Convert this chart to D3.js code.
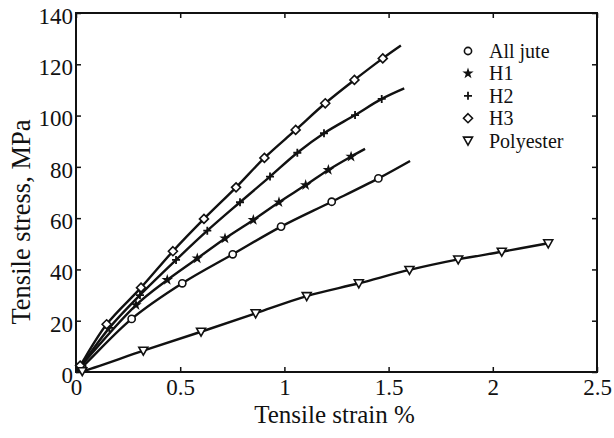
<!DOCTYPE html>
<html>
<head>
<meta charset="utf-8">
<script src="https://cdn.jsdelivr.net/npm/d3@7"></script>
<style>
	body { margin: 0; background: #fff; }
	text { font-family: "Liberation Serif", "Times New Roman", serif; fill: #111; }
</style>
</head>
<body>
<svg id="chart" width="614" height="438"></svg>
<script>
// values (strain %, stress MPa)
const seriesNames = ["All jute", "H1", "H2", "H3", "Polyester"];

const juteStrain = [0, 0.03, 0.267, 0.51, 0.752, 0.984, 1.227, 1.451, 1.603];
const juteStress = [0, 2, 20.7, 34.6, 45.9, 56.7, 66.4, 75.5, 82.3];

const h1Strain = [0, 0.02, 0.288, 0.438, 0.582, 0.715, 0.851, 0.974, 1.102, 1.211, 1.32, 1.387];
const h1Stress = [0, 2, 26.1, 35.9, 44.3, 52.1, 59.3, 66.2, 72.9, 78.8, 84.0, 87.0];

const h2Strain = [0, 0.02, 0.16, 0.307, 0.48, 0.63, 0.787, 0.931, 1.062, 1.19, 1.339, 1.467, 1.575];
const h2Stress = [0, 2, 17.2, 30.0, 43.7, 55.1, 66.2, 76.2, 85.5, 93.1, 100.2, 106.5, 110.6];

const h3Strain = [0, 0.02, 0.147, 0.312, 0.465, 0.614, 0.768, 0.904, 1.054, 1.196, 1.336, 1.472, 1.559];
const h3Stress = [0, 2.5, 18.6, 32.9, 47.1, 59.7, 72.0, 83.5, 94.4, 104.8, 113.9, 122.3, 127.3];

const polyStrain = [0, 0.03, 0.323, 0.6, 0.862, 1.107, 1.357, 1.6, 1.834, 2.043, 2.266];
const polyStress = [0, 0.3, 8.3, 15.7, 22.9, 29.6, 34.6, 39.8, 43.9, 46.9, 50.2];

// last point is a bare line end (no marker)
const openEnd = [true, true, true, true, false];

const xTicks = [0, 0.5, 1, 1.5, 2, 2.5];
const yTicks = [0, 20, 40, 60, 80, 100, 120, 140];

const strains = [juteStrain, h1Strain, h2Strain, h3Strain, polyStrain];
const stresses = [juteStress, h1Stress, h2Stress, h3Stress, polyStress];
const markerKind = ["circle", "star", "plus", "diamond", "triangle"];

let svg = d3.select("#chart");

let pLeft = 76, pRight = 597, pTop = 13, pBottom = 372;

let x = d3.scaleLinear().domain([0, 2.5]).range([pLeft, pRight]);
let y = d3.scaleLinear().domain([0, 140]).range([pBottom, pTop]);

// ticks on all four sides, pointing inward
svg.append("g")
	.attr("transform", "translate(0," + pBottom + ")")
	.call(d3.axisBottom(x).tickValues(xTicks).tickSizeInner(-5).tickSizeOuter(0).tickPadding(7).tickFormat((d) => String(d)))
	.call((g) => g.select(".domain").remove())
	.call((g) => g.selectAll("text").attr("font-size", 23).attr("fill", "#111"));

svg.append("g")
	.attr("transform", "translate(" + pLeft + ",0)")
	.call(d3.axisLeft(y).tickValues(yTicks).tickSizeInner(-5).tickSizeOuter(0).tickPadding(3))
	.call((g) => g.select(".domain").remove())
	.call((g) => g.selectAll("text").attr("font-size", 23).attr("dy", "0.45em").attr("fill", "#111"));

svg.append("g")
	.attr("transform", "translate(0," + pTop + ")")
	.call(d3.axisTop(x).tickValues(xTicks).tickSizeInner(-5).tickSizeOuter(0).tickFormat(""))
	.call((g) => g.select(".domain").remove());

svg.append("g")
	.attr("transform", "translate(" + pRight + ",0)")
	.call(d3.axisRight(y).tickValues(yTicks).tickSizeInner(-5).tickSizeOuter(0).tickFormat(""))
	.call((g) => g.select(".domain").remove());

svg.selectAll(".tick line").attr("stroke", "#111").attr("stroke-width", 1.5);

svg.append("rect")
	.attr("x", pLeft).attr("y", pTop)
	.attr("width", pRight - pLeft).attr("height", pBottom - pTop)
	.attr("fill", "none").attr("stroke", "#111").attr("stroke-width", 2);

// axis titles
svg.append("text")
	.attr("x", (pLeft + pRight) / 2 - 2).attr("y", 423)
	.attr("text-anchor", "middle").attr("font-size", 25)
	.text("Tensile strain %");

svg.append("text")
	.attr("transform", "translate(30," + 222 + ") rotate(-90)")
	.attr("text-anchor", "middle").attr("font-size", 26.5)
	.text("Tensile stress, MPa");

// markers
function drawMarker(g, kind) {
	if (kind === "circle") {
		g.append("circle").attr("r", 3.6).attr("fill", "#fff").attr("stroke", "#111").attr("stroke-width", 1.6);
	} else if (kind === "star") {
		g.append("path").attr("d", d3.symbol().type(d3.symbolStar).size(40)()).attr("fill", "#111");
	} else if (kind === "plus") {
		g.append("path").attr("d", "M-4,0H4M0,-4V4").attr("stroke", "#111").attr("stroke-width", 1.8);
	} else if (kind === "diamond") {
		g.append("path").attr("d", "M0,-4.5L4.5,0L0,4.5L-4.5,0Z").attr("fill", "#fff").attr("stroke", "#111").attr("stroke-width", 1.6);
	} else if (kind === "triangle") {
		g.append("path").attr("d", "M-4.5,-3.5L4.5,-3.5L0,4.5Z").attr("fill", "#fff").attr("stroke", "#111").attr("stroke-width", 1.6);
	}
}

let line = d3.line()
	.x((d) => x(d[0]))
	.y((d) => y(d[1]))
	.curve(d3.curveCatmullRom.alpha(0.5));

strains.forEach((xs, i) => {
	let pts = xs.map((v, j) => [v, stresses[i][j]]);

	svg.append("path")
		.datum(pts)
		.attr("d", line)
		.attr("fill", "none")
		.attr("stroke", "#111")
		.attr("stroke-width", 2.4);

	let marked = pts.slice(1, openEnd[i] ? pts.length - 1 : pts.length);

	svg.selectAll(".m" + i)
		.data(marked)
		.enter().append("g")
		.attr("class", "m" + i)
		.attr("transform", (d) => "translate(" + x(d[0]) + "," + y(d[1]) + ")")
		.each(function() { drawMarker(d3.select(this), markerKind[i]); });
});

// legend
let legend = svg.append("g").attr("transform", "translate(468,51)");

seriesNames.forEach((name, i) => {
	let row = legend.append("g").attr("transform", "translate(0," + (i * 22.4) + ")");
	drawMarker(row, markerKind[i]);
	row.append("text")
		.attr("x", 21).attr("y", 7)
		.attr("font-size", 20)
		.text(name);
});
</script>
</body>
</html>
